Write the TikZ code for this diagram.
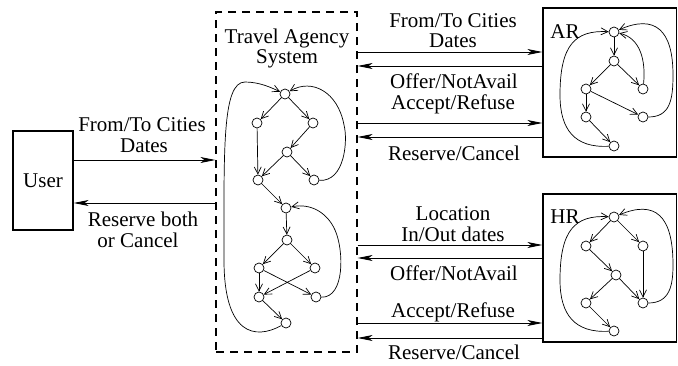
\documentclass[tikz,border=0pt]{standalone}
\usepackage{fontspec}
\setmainfont{Liberation Serif}
\usetikzlibrary{arrows.meta}
\begin{document}
\begin{tikzpicture}[x=1pt,y=-1pt,
  every node/.style={font=\fontsize{21}{24}\selectfont},
  lbl/.style={inner sep=0pt, anchor=center},
  st/.style={circle, draw, line width=0.7pt, minimum size=10pt, inner sep=0pt},
  ga/.style={-{Straight Barb[length=7pt,width=7pt]}, line width=0.7pt},
  ma/.style={-{Stealth[length=15pt,width=6pt,inset=4pt]}, line width=0.9pt},
  box/.style={draw, line width=1.2pt, inner sep=0pt}]
\useasboundingbox (0,0) rectangle (678,365);

% boxes
\node[box, minimum width=60pt, minimum height=99pt] (user) at (43,180.5) {User};
\node[box, dash pattern=on 8pt off 6pt, minimum width=141pt, minimum height=340pt] (tas) at (286.5,182) {};
\node[box, minimum width=133.5pt, minimum height=149pt] (ar) at (609.75,82.5) {};
\node[box, minimum width=133.5pt, minimum height=148pt] (hr) at (609.75,268) {};

\node[lbl] (tasA) at (287,38) {Travel Agency};
\node[lbl] (tasB) at (287,59) {System};
\node[lbl] (arl) at (565,32) {AR};
\node[lbl] (hrl) at (565,217) {HR};

% y levels
\coordinate (u1) at (0,160);
\coordinate (u2) at (0,203);
\coordinate (r1) at (0,52);
\coordinate (r2) at (0,66);
\coordinate (r3) at (0,123);
\coordinate (r4) at (0,137);
\coordinate (s1) at (0,245);
\coordinate (s2) at (0,258);
\coordinate (s3) at (0,323);
\coordinate (s4) at (0,338);

% user arrows
\draw[ma] (user.east |- u1) -- (tas.west |- u1);
\draw[ma] (tas.west |- u2) -- (user.east |- u2);
\node[lbl] (ul1) at (142,125) {From/To Cities};
\node[lbl] (ul2) at (144,146) {Dates};
\node[lbl] (ul3) at (143,219) {Reserve both};
\node[lbl] (ul4) at (138,240) {or Cancel};

% AR arrows
\draw[ma] (tas.east |- r1) -- (ar.west |- r1);
\draw[ma] (ar.west |- r2) -- (tas.east |- r2);
\draw[ma] (tas.east |- r3) -- (ar.west |- r3);
\draw[ma] (ar.west |- r4) -- (tas.east |- r4);
\node[lbl] (al1) at (453,21) {From/To Cities};
\node[lbl] (al2) at (453,41) {Dates};
\node[lbl] (al3) at (454,81) {Offer/NotAvail};
\node[lbl] (al4) at (453,104) {Accept/Refuse};
\node[lbl] (al5) at (454,153) {Reserve/Cancel};

% HR arrows
\draw[ma] (tas.east |- s1) -- (hr.west |- s1);
\draw[ma] (hr.west |- s2) -- (tas.east |- s2);
\draw[ma] (tas.east |- s3) -- (hr.west |- s3);
\draw[ma] (hr.west |- s4) -- (tas.east |- s4);
\node[lbl] (hl1) at (453,214) {Location};
\node[lbl] (hl2) at (453,234) {In/Out dates};
\node[lbl] (hl3) at (454,273) {Offer/NotAvail};
\node[lbl] (hl4) at (453,312) {Accept/Refuse};
\node[lbl] (hl5) at (454,352) {Reserve/Cancel};

% TAS graph
\foreach \n/\x/\y in {n1/285/94, n2/257/123, n3/313/123, n4/287/152, n5/258/180, n6/314/180,
  n7/286/208, n8/287/240, n9/259/268, n10/315/268, n11/259/297, n12/316/297, n13/286/323}
  \node[st] (\n) at (\x,\y) {};
\foreach \a/\b in {n1/n2, n1/n3, n2/n5, n3/n4, n4/n5, n4/n6, n5/n7, n7/n8, n8/n9, n8/n10,
  n9/n11, n9/n12, n10/n11, n11/n13}
  \draw[ga] (\a) -- (\b);
\draw[ga] (n6) .. controls (345,182) and (348,140) .. (344,125) .. controls (338,92) and (312,78) .. (n1);
\draw[ga] (n12) .. controls (345,298) and (344,250) .. (335,230) .. controls (327,212) and (310,203) .. (n7);
\draw[ga] (n13) .. controls (255,340) and (224,335) .. (224,260) .. controls (224,150) and (222,82) .. (245,82) .. controls (260,82) and (272,88) .. (n1);

% AR graph
\foreach \n/\x/\y in {a1/614/32, a2/614/61, a3/586/89, a4/643/89, a5/586/117, a6/643/117, a7/614/146}
  \node[st] (\n) at (\x,\y) {};
\foreach \a/\b in {a1/a2, a2/a3, a2/a4, a3/a5, a3/a6, a5/a7}
  \draw[ga] (\a) -- (\b);
\draw[ga] (a4) .. controls (646,60) and (640,38) .. (a1);
\draw[ga] (a6) .. controls (670,117) and (673,100) .. (673,75) .. controls (673,30) and (655,14) .. (a1);
\draw[ga] (a7) .. controls (575,148) and (560,130) .. (560,95) .. controls (560,45) and (575,30) .. (a1);

% HR graph
\foreach \n/\x/\y in {h1/614/217, h2/586/246, h3/643/246, h4/616/275, h5/586/303, h6/643/303, h7/614/331}
  \node[st] (\n) at (\x,\y) {};
\foreach \a/\b in {h1/h2, h1/h3, h2/h4, h3/h6, h4/h5, h4/h6, h5/h7}
  \draw[ga] (\a) -- (\b);
\draw[ga] (h6) .. controls (670,303) and (673,285) .. (673,265) .. controls (673,215) and (655,200) .. (h1);
\draw[ga] (h7) .. controls (575,333) and (560,315) .. (560,280) .. controls (560,230) and (575,215) .. (h1);
\end{tikzpicture}
\end{document}
